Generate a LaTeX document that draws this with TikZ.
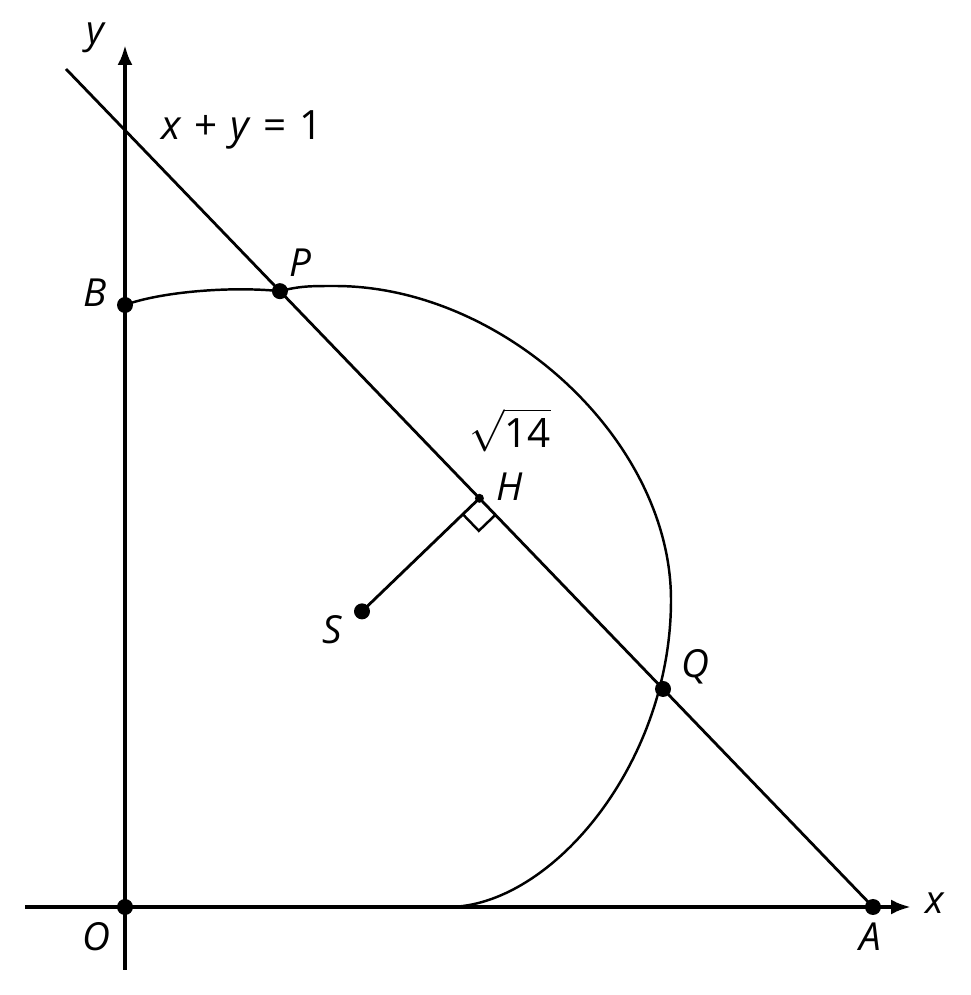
\documentclass[tikz,border=0pt]{standalone}
\usepackage{amsmath}
\usepackage{fontspec}
\setmainfont{Open Sans}
\usetikzlibrary{calc,arrows.meta}

\begin{document}
\begin{tikzpicture}[
    dot/.style={circle, fill=black, inner sep=0pt, minimum size=1.6mm},
    lbl/.style={font=\fontsize{11}{13}\selectfont\itshape, inner sep=1pt},
    txt/.style={font=\fontsize{11.5}{13}\selectfont, inner sep=1pt},
    axis/.style={line width=1.1pt, -{Latex[length=2mm,width=1.5mm]}}
]
    \useasboundingbox (0,0) rectangle (9.71,9.95);
    % Points
    \coordinate (O) at (1.25,0.88);
    \coordinate (A) at (8.73,0.88);
    \coordinate (B) at (1.25,6.90);
    \coordinate (L) at (0.66,9.26);
    \coordinate (P) at ($(L)!0.2651!(A)$);
    \coordinate (H) at ($(L)!0.5123!(A)$);
    \coordinate (Q) at ($(L)!0.7398!(A)$);
    \coordinate (S) at ($(H)!1.63cm!-90:(A)$);
    \coordinate (T) at (3.35,7.09);  % top of arc
    \coordinate (R) at (6.71,3.95);  % right of arc
    \coordinate (E) at (4.48,0.88);  % arc meets x-axis

    % Axes
    \coordinate (xs) at (0.25,0.88);
    \coordinate (xe) at (9.11,0.88);
    \coordinate (ys) at (1.25,0.25);
    \coordinate (ye) at (1.25,9.50);
    \draw[axis] (xs) -- (xe);
    \draw[axis] (ys) -- (ye);

    % Line x+y=1 and the arc
    \draw[line width=0.8pt] (L) -- (A);
    \draw[line width=0.7pt] (B) .. controls (1.6,7.03) and (2.3,7.09) .. (P)
        .. controls (3.0,7.09) and (3.1,7.09) .. (T)
        .. controls (5.03,7.09) and (6.71,5.55) .. (R)
        .. controls (6.71,2.30) and (5.50,0.88) .. (E);

    % Perpendicular from S
    \draw[line width=0.8pt] (S) -- (H);
    \coordinate (R1) at ($(H)!0.23cm!(S)$);
    \coordinate (R3) at ($(H)!0.23cm!(A)$);
    \draw[line width=0.7pt] (R1) -- ($(R1)+(R3)-(H)$) -- (R3);

    % Dots
    \foreach \p in {O,A,B,P,Q,S}
        \node[dot] (d\p) at (\p) {};
    \node[dot, minimum size=0.9mm] (dH) at (H) {};

    % Labels
    \node[lbl] (lx) at (9.35,0.92) {x};
    \node[lbl] (ly) at (0.95,9.57) {y};
    \node[txt] (eq) at (2.42,8.65) {\textit{x}\kern0.6pt{} +\kern0.6pt{} \textit{y}\kern0.6pt{} =\kern0.6pt{} 1};
    \node[lbl] (lP) at (3.00,7.32) {P};
    \node[lbl] (lB) at (0.95,7.02) {B};
    \node[txt] (rt) at (5.10,5.65) {$\sqrt{\text{14}}$};
    \node[lbl] (lH) at (5.10,5.08) {H};
    \node[lbl] (lS) at (3.32,3.65) {S};
    \node[lbl] (lQ) at (6.95,3.28) {Q};
    \node[lbl] (lO) at (0.96,0.58) {O};
    \node[lbl] (lA) at (8.70,0.58) {A};
\end{tikzpicture}
\end{document}
